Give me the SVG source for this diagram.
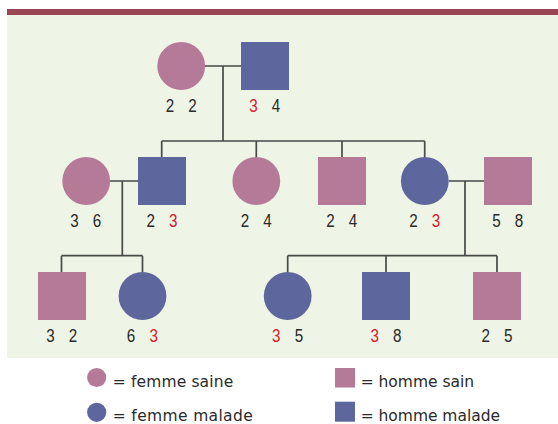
<svg xmlns="http://www.w3.org/2000/svg" width="558" height="424" viewBox="0 0 558 424">
<style>
.f{fill:#b57a98}
.m{fill:#5e679d}
.ln{stroke:#474a47;stroke-width:1.7;fill:none}
.d{font-family:"Liberation Sans",Arial,sans-serif;font-size:19px;fill:#2a2a2a;text-anchor:middle}
.r{fill:#d8202a}
.lg{font-family:"DejaVu Sans","Liberation Sans",sans-serif;font-size:15.5px;fill:#2a2a2a}
</style>
<rect x="0" y="0" width="558" height="424" fill="#ffffff"/>
<rect x="7" y="15" width="551" height="343" fill="#eef4e6"/>
<rect x="7" y="9" width="551" height="6" fill="#9a4553"/>
<g id="connectors">
<path class="ln" d="M205 66H241M223 66V141M161.7 141H424.7M161.7 141V157M256.3 141V157M342 141V157M424.7 141V157"/>
<path class="ln" d="M110 181H138M122.3 181V255.7M61.5 255.7H142.5M61.5 255.7V272M142.5 255.7V272"/>
<path class="ln" d="M448.7 181H484M465 181V255.7M287.7 255.7H497M287.7 255.7V272M386 255.7V272M497 255.7V272"/>
</g>
<g id="g1-mother"><ellipse class="f" cx="181.2" cy="66" rx="23.9" ry="24"/><g transform="scale(0.8,1)"><text class="d" x="212.5" y="112">2</text><text class="d" x="240.75" y="112">2</text></g></g>
<g id="g1-father"><rect class="m" x="241" y="42" width="48" height="48"/><g transform="scale(0.8,1)"><text class="d r" x="316.9" y="112">3</text><text class="d" x="345" y="112">4</text></g></g>
<g id="g2-wife"><ellipse class="f" cx="86.2" cy="181" rx="23.9" ry="24"/><g transform="scale(0.8,1)"><text class="d" x="93.1" y="227">3</text><text class="d" x="121.25" y="227">6</text></g></g>
<g id="g2-son"><rect class="m" x="138" y="157" width="48" height="48"/><g transform="scale(0.8,1)"><text class="d" x="188.4" y="227">2</text><text class="d r" x="216.5" y="227">3</text></g></g>
<g id="g2-daughter1"><ellipse class="f" cx="256.3" cy="181" rx="23.9" ry="24"/><g transform="scale(0.8,1)"><text class="d" x="306.25" y="227">2</text><text class="d" x="334.4" y="227">4</text></g></g>
<g id="g2-son2"><rect class="f" x="318" y="157" width="48" height="48"/><g transform="scale(0.8,1)"><text class="d" x="413.1" y="227">2</text><text class="d" x="441.25" y="227">4</text></g></g>
<g id="g2-daughter2"><ellipse class="m" cx="424.8" cy="181" rx="23.9" ry="24"/><g transform="scale(0.8,1)"><text class="d" x="516.9" y="227">2</text><text class="d r" x="545" y="227">3</text></g></g>
<g id="g2-husband"><rect class="f" x="484" y="157" width="48" height="48"/><g transform="scale(0.8,1)"><text class="d" x="620.6" y="227">5</text><text class="d" x="648.75" y="227">8</text></g></g>
<g id="g3-a"><rect class="f" x="38" y="272" width="48" height="48"/><g transform="scale(0.8,1)"><text class="d" x="63.1" y="342">3</text><text class="d" x="91.25" y="342">2</text></g></g>
<g id="g3-b"><ellipse class="m" cx="142.5" cy="296" rx="23.9" ry="24"/><g transform="scale(0.8,1)"><text class="d" x="163.75" y="342">6</text><text class="d r" x="192.1" y="342">3</text></g></g>
<g id="g3-c"><ellipse class="m" cx="287.7" cy="296" rx="23.9" ry="24"/><g transform="scale(0.8,1)"><text class="d r" x="345.25" y="342">3</text><text class="d" x="373.75" y="342">5</text></g></g>
<g id="g3-d"><rect class="m" x="362" y="272" width="48" height="48"/><g transform="scale(0.8,1)"><text class="d r" x="468.5" y="342">3</text><text class="d" x="496.6" y="342">8</text></g></g>
<g id="g3-e"><rect class="f" x="473" y="272" width="48" height="48"/><g transform="scale(0.8,1)"><text class="d" x="607.1" y="342">2</text><text class="d" x="635.4" y="342">5</text></g></g>
<g id="legend">
<circle class="f" cx="96.7" cy="377.5" r="9.6"/>
<text class="lg" x="112.7" y="386.5" textLength="120.5" lengthAdjust="spacing">= femme saine</text>
<circle class="m" cx="96.7" cy="412.3" r="9.6"/>
<text class="lg" x="112.7" y="421" textLength="140" lengthAdjust="spacing">= femme malade</text>
<rect class="f" x="335" y="368" width="20" height="19.5"/>
<text class="lg" x="360.7" y="386.5" textLength="113.3" lengthAdjust="spacing">= homme sain</text>
<rect class="m" x="335" y="401.7" width="20" height="20"/>
<text class="lg" x="360.7" y="421" textLength="139.3" lengthAdjust="spacing">= homme malade</text>
</g>
</svg>
